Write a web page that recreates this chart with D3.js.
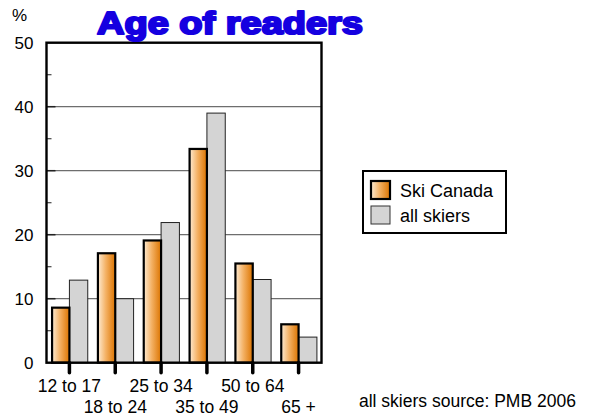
<!DOCTYPE html>
<html><head><meta charset="utf-8">
<script src="https://cdn.jsdelivr.net/npm/d3@7"></script>
<style>body{margin:0;background:#fff;} svg{display:block;font-family:"Liberation Sans",Arial,sans-serif;}</style>
</head><body>
<svg id="c" width="590" height="418"></svg>
<script>
const categories = ["12 to 17","18 to 24","25 to 34","35 to 49","50 to 64","65 +"];
const skiCanada = [8.6, 17.1, 19.1, 33.4, 15.5, 6];
const allSkiers = [12.9, 10, 21.9, 39, 13, 4];
const seriesNames = ["Ski Canada","all skiers"];
const yTicks = [0,10,20,30,40,50];
const minorTicks = [5,15,25,35,45];

const svg = d3.select("#c");
const L=46.5, R=321.5, T=42.7, B=362.7;
const x = d3.scaleBand().domain(categories).range([L,R]).paddingInner(0.2).paddingOuter(0.1);
const y = d3.scaleLinear().domain([0,50]).range([B,T]);

const defs = svg.append("defs");
const g = defs.append("linearGradient").attr("id","og").attr("x1","0").attr("x2","1").attr("y1","0").attr("y2","0");
g.append("stop").attr("offset","0").attr("stop-color","#fdebd3");
g.append("stop").attr("offset","0.45").attr("stop-color","#f4b266");
g.append("stop").attr("offset","1").attr("stop-color","#dc7400");

// gridlines
svg.append("g").selectAll("line").data(yTicks.filter(d=>d>0&&d<50)).join("line")
  .attr("x1",L).attr("x2",R).attr("y1",d=>y(d)).attr("y2",d=>y(d))
  .attr("stroke","#6e6e6e").attr("stroke-width",1.3);

// y axis ticks & labels
const ya = svg.append("g").attr("transform",`translate(${L},0)`)
  .call(d3.axisLeft(y).tickValues(yTicks).tickSize(0).tickPadding(13));
ya.select(".domain").remove();
ya.selectAll("text").attr("font-size",17).attr("fill","#000").attr("font-family","Liberation Sans, Arial, sans-serif");
svg.append("g").selectAll("line").data(yTicks.filter(d=>d>0&&d<50)).join("line")
  .attr("x1",L).attr("x2",L+9).attr("y1",d=>y(d)).attr("y2",d=>y(d)).attr("stroke","#222").attr("stroke-width",1.5);
svg.append("g").selectAll("line").data(minorTicks).join("line")
  .attr("x1",L).attr("x2",L+5).attr("y1",d=>y(d)).attr("y2",d=>y(d)).attr("stroke","#444").attr("stroke-width",1.2);

// bars
const bw = x.bandwidth()/2;
svg.append("g").selectAll("rect").data(allSkiers).join("rect")
  .attr("x",(d,i)=>x(categories[i])+bw).attr("width",bw)
  .attr("y",d=>y(d)).attr("height",d=>B-y(d))
  .attr("fill","#d4d4d4").attr("stroke","#222").attr("stroke-width",1);
svg.append("g").selectAll("rect").data(skiCanada).join("rect")
  .attr("x",(d,i)=>x(categories[i])+1).attr("width",bw-1)
  .attr("y",d=>y(d)).attr("height",d=>B-y(d))
  .attr("fill","url(#og)").attr("stroke","#000").attr("stroke-width",2.2);

// frame
svg.append("rect").attr("x",L).attr("y",T).attr("width",R-L).attr("height",B-T)
  .attr("fill","none").attr("stroke","#000").attr("stroke-width",2.4);

// x ticks
svg.append("g").selectAll("line").data(categories).join("line")
  .attr("x1",d=>x(d)+bw).attr("x2",d=>x(d)+bw).attr("y1",B).attr("y2",B+10)
  .attr("stroke","#000").attr("stroke-width",3.5).attr("stroke-linecap","round");
svg.append("g").selectAll("text").data(categories).join("text")
  .attr("x",d=>x(d)+bw).attr("y",(d,i)=>i%2===0?392:413)
  .attr("text-anchor","middle").attr("font-size",17.5).text(d=>d);

// labels
svg.append("text").attr("x",12).attr("y",21).attr("font-size",17).text("%");
svg.append("text").attr("x",97).attr("y",34).attr("font-size",31).attr("font-weight","bold")
  .attr("fill","#1500e0").attr("stroke","#1500e0").attr("stroke-width",2.2).attr("stroke-linejoin","round")
  .attr("textLength",266).attr("lengthAdjust","spacingAndGlyphs")
  .attr("font-family","Liberation Sans, Arial, sans-serif").text("Age of readers");

// legend
const lg = svg.append("g");
lg.append("rect").attr("x",363).attr("y",171).attr("width",143).attr("height",62)
  .attr("fill","#fff").attr("stroke","#000").attr("stroke-width",2);
const fills = ["url(#og)","#d4d4d4"];
seriesNames.forEach((n,i)=>{
  lg.append("rect").attr("x",371).attr("y",181+i*25).attr("width",19).attr("height",18)
    .attr("fill",fills[i]).attr("stroke",i===0?"#000":"#333").attr("stroke-width",i===0?2.2:1);
  lg.append("text").attr("x",400).attr("y",197+i*25).attr("font-size",18).text(n);
});

svg.append("text").attr("x",359).attr("y",407).attr("font-size",17.5).text("all skiers source: PMB 2006");
</script>
</body></html>
